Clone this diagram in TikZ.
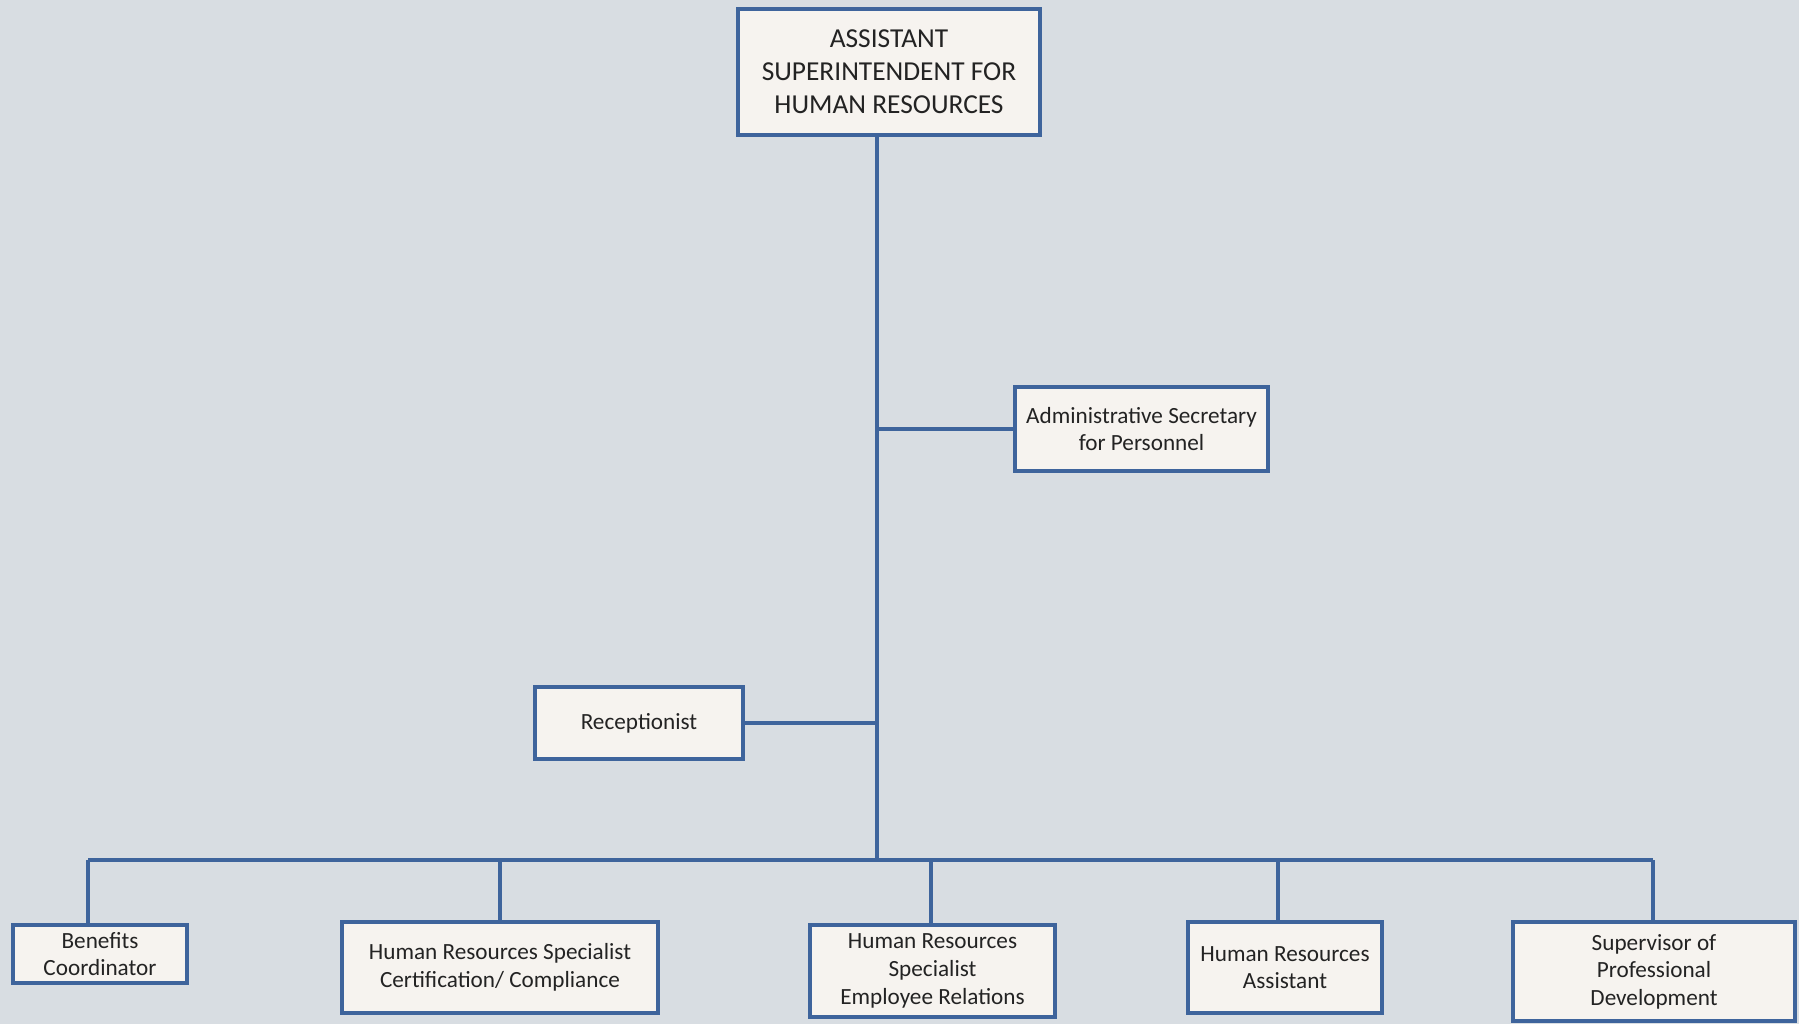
\documentclass[tikz,border=0pt]{standalone}
\usepackage{fontspec}
\setmainfont{Carlito}
\usepackage{xcolor}
\definecolor{scanbg}{RGB}{216,221,226}
\definecolor{boxfill}{RGB}{246,243,239}
\definecolor{orgblue}{RGB}{62,100,156}
\definecolor{inktext}{RGB}{35,35,35}

\begin{document}
\begin{tikzpicture}[x=0.5pt, y=-0.5pt,
    post/.style={draw=orgblue, line width=2pt, fill=boxfill, text=inktext, align=center,
        inner sep=0pt, font=\fontsize{11.6}{13.8}\selectfont},
    link/.style={draw=orgblue, line width=1.7pt}]
    % Page and background
    \useasboundingbox (0, 0) rectangle (1799, 1024);
    \fill[scanbg] (0, 0) rectangle (1799, 1024);

    % Head of the department
    \node[post, minimum width=151pt, minimum height=63pt, font=\fontsize{13.7}{16.5}\selectfont]
        (head) at (889, 72) {ASSISTANT\\SUPERINTENDENT FOR\\HUMAN RESOURCES};

    % Staff attached to the trunk
    \node[post, minimum width=126.5pt, minimum height=42pt] (secretary) at (1141.5, 429)
        {Administrative Secretary\\for Personnel};
    \node[post, minimum width=104pt, minimum height=36pt] (reception) at (639, 723) {Receptionist};

    % Bottom row
    \node[post, minimum width=87pt, minimum height=29pt] (benefits) at (100, 954) {Benefits\\Coordinator};
    \node[post, minimum width=158pt, minimum height=45.5pt] (certification) at (500, 967.5)
        {Human Resources Specialist\\Certification/ Compliance};
    \node[post, minimum width=122.5pt, minimum height=46pt] (relations) at (932.5, 971)
        {Human Resources\\Specialist\\Employee Relations};
    \node[post, minimum width=97pt, minimum height=45.5pt] (assistant) at (1285, 967.5)
        {Human Resources\\Assistant};
    \node[post, minimum width=141pt, minimum height=49.5pt] (development) at (1654, 971.5)
        {Supervisor of\\Professional\\Development};

    % Trunk and bus
    \coordinate (hub) at (877, 860);
    \draw[link] (877, 0 |- head.south) -- (hub); % Trunk
    \draw[link] (hub |- secretary.west) -- (secretary.west); % To secretary
    \draw[link] (reception.east) -- (hub |- reception.east); % To receptionist
    \draw[link] (88, 860) -- (1653, 860); % Bus

    % Drops to the bottom row
    \foreach \n/\x in {benefits/88, certification/500, relations/931, assistant/1278, development/1653}
        \draw[link] (\x, 860) -- (\x, 0 |- \n.north);
\end{tikzpicture}
\end{document}
